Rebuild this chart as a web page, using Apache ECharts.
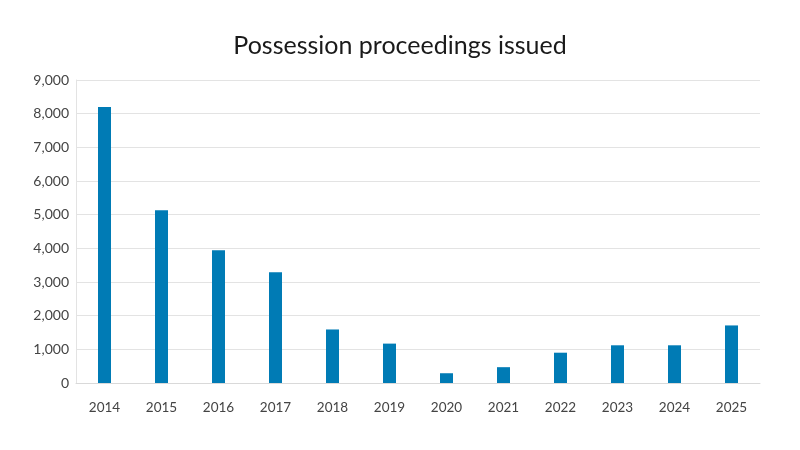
<!DOCTYPE html>
<html lang="en">
<head>
    <meta charset="UTF-8">
    <title>Possession proceedings issued</title>
    <script src="https://cdn.jsdelivr.net/npm/echarts@6/dist/echarts.min.js"></script>
    <style>
        html, body { margin: 0; padding: 0; background: #fff; }
        #chart { width: 800px; height: 450px; }
    </style>
</head>
<body>
    <div id="chart"></div>
    <script>
        var years = ['2014', '2015', '2016', '2017', '2018', '2019', '2020', '2021', '2022', '2023', '2024', '2025'];
        var proceedings = [8200, 5130, 3940, 3290, 1590, 1170, 290, 470, 900, 1120, 1120, 1710];

        var myChart = echarts.init(document.getElementById('chart'));

        var option = {
            backgroundColor: '#ffffff',
            title: {
                text: 'Possession proceedings issued',
                left: 'center',
                top: 28,
                textStyle: {
                    fontFamily: 'Lato',
                    fontWeight: 'normal',
                    fontSize: 25,
                    color: '#1a1a1a'
                }
            },
            grid: {
                left: 76,
                right: 40,
                top: 80,
                bottom: 67
            },
            xAxis: {
                type: 'category',
                data: years,
                axisLine: { lineStyle: { color: '#d9d9d9' } },
                axisTick: {
                    inside: true,
                    length: 6,
                    lineStyle: { color: '#d9d9d9' }
                },
                axisLabel: {
                    margin: 18,
                    fontFamily: 'Lato',
                    fontSize: 13.5,
                    color: '#444'
                }
            },
            yAxis: {
                type: 'value',
                min: 0,
                max: 9000,
                interval: 1000,
                axisLine: { show: true, lineStyle: { color: '#e3e3e3' } },
                axisTick: { show: false },
                splitLine: { lineStyle: { color: '#e3e3e3' } },
                axisLabel: {
                    margin: 7,
                    fontFamily: 'Lato',
                    fontSize: 14,
                    color: '#444',
                    formatter: function (v) { return v.toLocaleString('en-GB'); }
                }
            },
            series: [{
                type: 'bar',
                data: proceedings,
                barWidth: 13,
                itemStyle: { color: '#007bb5' }
            }]
        };

        myChart.setOption(option);
    </script>
</body>
</html>
